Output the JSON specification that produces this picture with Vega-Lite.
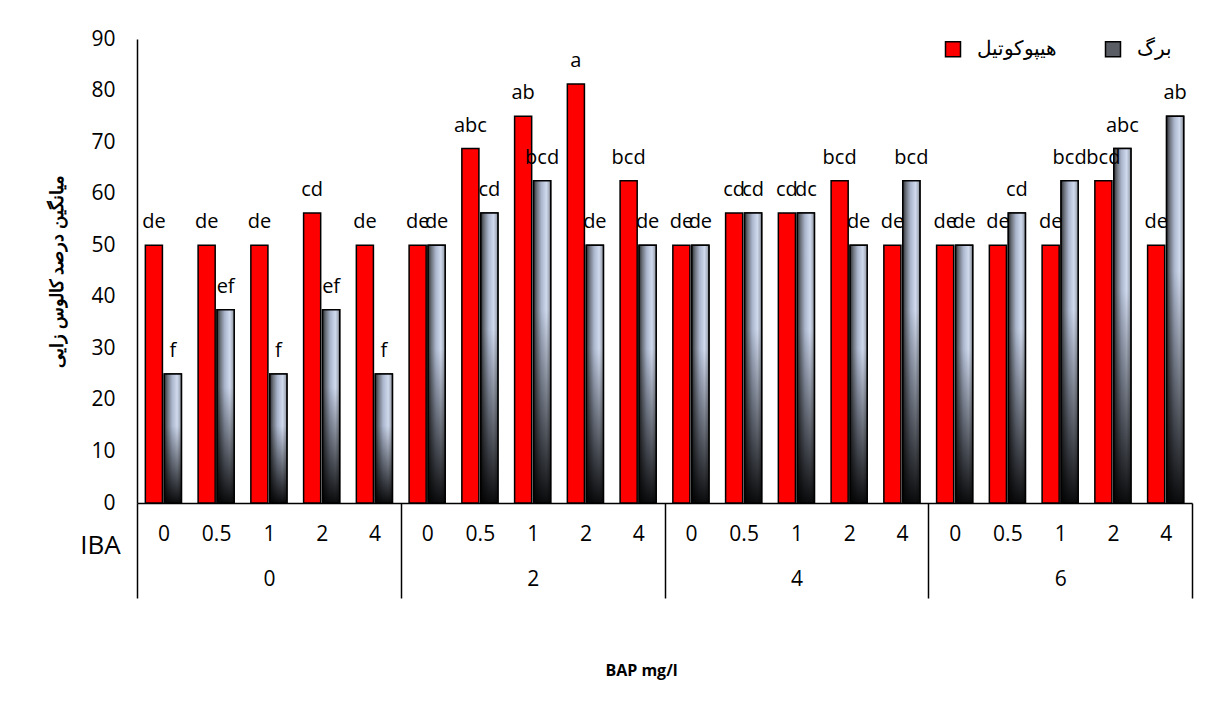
{
  "$schema": "https://vega.github.io/schema/vega-lite/v6.json",
  "width": 1055,
  "height": 464,
  "autosize": "none",
  "padding": {"left": 137, "top": 39, "right": 22, "bottom": 218},
  "background": "white",
  "config": {"view": {"stroke": null}, "font": "Open Sans"},
  "title": {"text": "BAP mg/l", "orient": "bottom", "fontSize": 16, "fontWeight": "bold", "color": "black", "offset": 64, "dx": -23, "font": "Open Sans"},
  "data": {"values": [
    {"cat": "0|0", "series": "هیپوکوتیل", "value": 50, "label": "de"},
    {"cat": "0|0.5", "series": "هیپوکوتیل", "value": 50, "label": "de"},
    {"cat": "0|1", "series": "هیپوکوتیل", "value": 50, "label": "de"},
    {"cat": "0|2", "series": "هیپوکوتیل", "value": 56.25, "label": "cd"},
    {"cat": "0|4", "series": "هیپوکوتیل", "value": 50, "label": "de"},
    {"cat": "2|0", "series": "هیپوکوتیل", "value": 50, "label": "de"},
    {"cat": "2|0.5", "series": "هیپوکوتیل", "value": 68.75, "label": "abc"},
    {"cat": "2|1", "series": "هیپوکوتیل", "value": 75, "label": "ab"},
    {"cat": "2|2", "series": "هیپوکوتیل", "value": 81.25, "label": "a"},
    {"cat": "2|4", "series": "هیپوکوتیل", "value": 62.5, "label": "bcd"},
    {"cat": "4|0", "series": "هیپوکوتیل", "value": 50, "label": "de"},
    {"cat": "4|0.5", "series": "هیپوکوتیل", "value": 56.25, "label": "cd"},
    {"cat": "4|1", "series": "هیپوکوتیل", "value": 56.25, "label": "cd"},
    {"cat": "4|2", "series": "هیپوکوتیل", "value": 62.5, "label": "bcd"},
    {"cat": "4|4", "series": "هیپوکوتیل", "value": 50, "label": "de"},
    {"cat": "6|0", "series": "هیپوکوتیل", "value": 50, "label": "de"},
    {"cat": "6|0.5", "series": "هیپوکوتیل", "value": 50, "label": "de"},
    {"cat": "6|1", "series": "هیپوکوتیل", "value": 50, "label": "de"},
    {"cat": "6|2", "series": "هیپوکوتیل", "value": 62.5, "label": "bcd"},
    {"cat": "6|4", "series": "هیپوکوتیل", "value": 50, "label": "de"},
    {"cat": "0|0", "series": "برگ", "value": 25, "label": "f"},
    {"cat": "0|0.5", "series": "برگ", "value": 37.5, "label": "ef"},
    {"cat": "0|1", "series": "برگ", "value": 25, "label": "f"},
    {"cat": "0|2", "series": "برگ", "value": 37.5, "label": "ef"},
    {"cat": "0|4", "series": "برگ", "value": 25, "label": "f"},
    {"cat": "2|0", "series": "برگ", "value": 50, "label": "de"},
    {"cat": "2|0.5", "series": "برگ", "value": 56.25, "label": "cd"},
    {"cat": "2|1", "series": "برگ", "value": 62.5, "label": "bcd"},
    {"cat": "2|2", "series": "برگ", "value": 50, "label": "de"},
    {"cat": "2|4", "series": "برگ", "value": 50, "label": "de"},
    {"cat": "4|0", "series": "برگ", "value": 50, "label": "de"},
    {"cat": "4|0.5", "series": "برگ", "value": 56.25, "label": "cd"},
    {"cat": "4|1", "series": "برگ", "value": 56.25, "label": "dc"},
    {"cat": "4|2", "series": "برگ", "value": 50, "label": "de"},
    {"cat": "4|4", "series": "برگ", "value": 62.5, "label": "bcd"},
    {"cat": "6|0", "series": "برگ", "value": 50, "label": "de"},
    {"cat": "6|0.5", "series": "برگ", "value": 56.25, "label": "cd"},
    {"cat": "6|1", "series": "برگ", "value": 62.5, "label": "bcd"},
    {"cat": "6|2", "series": "برگ", "value": 68.75, "label": "abc"},
    {"cat": "6|4", "series": "برگ", "value": 75, "label": "ab"}
  ]},
  "encoding": {
    "x": {
      "field": "cat", "type": "nominal",
      "scale": {"domain": ["0|0","0|0.5","0|1","0|2","0|4","2|0","2|0.5","2|1","2|2","2|4","4|0","4|0.5","4|1","4|2","4|4","6|0","6|0.5","6|1","6|2","6|4"], "paddingInner": 0, "paddingOuter": 0},
      "axis": {
        "title": "IBA", "titleFontSize": 26, "titleFontWeight": "normal", "titleColor": "black",
        "titleX": -37, "titleY": 42, "titleAlign": "center", "titleBaseline": "middle", "titleAngle": 0,
        "labelExpr": "split(datum.value,'|')[1] == '1' ? ['1', split(datum.value,'|')[0]] : split(datum.value,'|')[1]",
        "labelFontSize": 21, "labelColor": "black", "labelPadding": -75, "labelLineHeight": 45, "labelBaseline": "top",
        "labelAngle": 0, "labelOverlap": false, "labelBound": false,
        "tickBand": "extent",
        "tickSize": 95,
        "tickOpacity": {"condition": {"test": "datum.extra || indexof(['0|4','2|4','4|4','6|4'], datum.value) >= 0", "value": 1}, "value": 0},
        "tickColor": "black", "tickWidth": 1.5,
        "domainColor": "black", "domainWidth": 1.5
      }
    },
    "xOffset": {"field": "series", "type": "nominal", "scale": {"domain": ["هیپوکوتیل", "برگ"], "paddingInner": 0.1, "paddingOuter": 0.44}},
    "y": {
      "field": "value", "type": "quantitative",
      "scale": {"domain": [0, 90]},
      "axis": {
        "title": "میانگین درصد کالوس زایی", "titleFontSize": 18, "titleFontWeight": "bold", "titleColor": "black", "titlePadding": 24,
        "ticks": false, "labelPadding": 22, "labelFontSize": 21, "labelColor": "black",
        "domainColor": "black", "domainWidth": 1.5, "grid": false,
        "values": [0, 10, 20, 30, 40, 50, 60, 70, 80, 90]
      }
    }
  },
  "layer": [
    {
      "mark": {"type": "bar", "stroke": "black", "strokeWidth": 1.5},
      "encoding": {
        "fill": {
          "field": "series", "type": "nominal",
          "scale": {"domain": ["هیپوکوتیل", "برگ"], "range": ["#ff0000", "#5a5d63"]},
          "legend": {"orient": "none", "legendX": 806, "legendY": 0, "direction": "horizontal", "title": null,
            "labelFontSize": 20, "labelColor": "black", "symbolType": "square", "symbolSize": 225,
            "symbolStrokeColor": "black", "symbolStrokeWidth": 1.5, "columnPadding": 45, "labelOffset": 14}
        }
      }
    },
    {
      "transform": [{"filter": "datum.series == 'برگ'"}],
      "mark": {"type": "bar", "stroke": "black", "strokeWidth": 1.5,
        "fill": {"gradient": "linear", "x1": 0, "y1": 0, "x2": 1, "y2": 0,
          "stops": [
            {"offset": 0, "color": "#2e3136"},
            {"offset": 0.2, "color": "#6f757f"},
            {"offset": 0.45, "color": "#aab5cc"},
            {"offset": 0.75, "color": "#d0daee"},
            {"offset": 1, "color": "#8f96a1"}
          ]}}
    },
    {
      "transform": [{"filter": "datum.series == 'برگ'"}],
      "mark": {"type": "bar", "strokeWidth": 0,
        "fill": {"gradient": "linear", "x1": 0, "y1": 0, "x2": 0, "y2": 1,
          "stops": [
            {"offset": 0, "color": "rgba(0,0,0,0)"},
            {"offset": 0.4, "color": "rgba(0,0,0,0)"},
            {"offset": 1, "color": "rgba(0,0,0,0.95)"}
          ]}}
    },
    {
      "mark": {"type": "text", "dy": -17, "baseline": "alphabetic", "fontSize": 20, "font": "Open Sans", "color": "black"},
      "encoding": {"text": {"field": "label", "type": "nominal"}}
    }
  ]
}
